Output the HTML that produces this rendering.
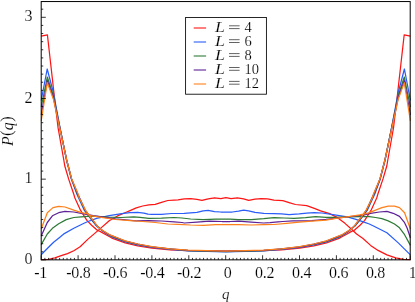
<!DOCTYPE html>
<html><head><meta charset="utf-8"><style>
html,body{margin:0;padding:0;background:#fff}
body{width:415px;height:302px;position:relative;overflow:hidden;font-family:"Liberation Serif",serif}
.t{position:absolute;will-change:transform;font-size:14px;line-height:16px;color:#000;white-space:nowrap}
.i{font-style:italic}
.n{font-style:normal}
.lg{font-size:14.5px}
</style></head><body>
<svg width="415" height="302" viewBox="0 0 415 302" style="position:absolute;left:0;top:0"><defs><clipPath id="c"><rect x="40.5" y="1.55" width="370.4" height="259.0"/></clipPath></defs><g clip-path="url(#c)" fill="none" stroke-width="1.25" stroke-linejoin="round" stroke-linecap="butt"><path d="M41.2,259.6 L48.6,259.3 L54.9,257.8 L61.2,255.7 L67.5,253.6 L73.8,250.7 L80.1,246.7 L88.0,239.1 L99.1,229.6 L109.2,220.8 L118.0,215.7 L126.8,212.0 L130.0,210.6 L136.3,207.9 L142.6,206.0 L148.9,204.9 L155.2,204.3 L161.5,202.4 L167.8,200.5 L174.1,200.1 L178.0,199.8 L184.3,198.8 L190.6,198.6 L196.9,199.4 L201.9,200.3 L208.2,198.8 L214.5,197.9 L220.8,198.6 L225.9,197.6 L231.0,198.6 L237.3,197.9 L243.6,198.8 L248.7,200.3 L255.0,199.1 L261.3,198.6 L267.6,198.8 L273.9,200.1 L282.8,200.7 L289.1,202.6 L295.4,204.5 L306.7,205.7 L314.3,208.3 L320.6,210.8 L329.6,213.6 L337.1,217.4 L344.7,223.1 L351.0,228.7 L356.6,234.0 L363.0,238.5 L370.6,245.4 L378.1,250.4 L386.9,254.9 L395.7,257.8 L403.3,259.3 L410.4,259.6" stroke="#ff1414"/><path d="M41.2,36.1 L47.4,34.8 L50.7,64.0 L54.3,96.0 L58.1,128.0 L63.8,160.0 L64.8,166.0 L68.6,178.9 L73.7,194.0 L74.9,198.0 L80.6,210.4 L86.9,220.4 L91.6,225.2 L97.6,230.5 L100.0,231.4 L109.2,236.5 L112.6,238.4 L125.2,242.8 L137.8,245.9 L152.0,248.2 L170.0,249.8 L188.0,250.6 L225.8,251.2 L263.6,250.6 L281.6,249.8 L299.6,248.2 L313.8,245.9 L326.4,242.8 L339.0,238.4 L342.4,236.5 L351.6,231.4 L354.0,230.5 L360.0,225.2 L364.7,220.4 L371.0,210.4 L376.7,198.0 L377.9,194.0 L383.0,178.9 L386.8,166.0 L387.8,160.0 L393.5,128.0 L397.3,96.0 L400.9,64.0 L404.2,34.8 L410.4,36.1" stroke="#ff1414"/><path d="M41.2,254.7 L47.3,248.5 L53.6,242.2 L59.9,237.2 L64.3,233.6 L73.8,228.3 L84.0,223.3 L88.0,221.5 L96.6,218.3 L109.2,215.7 L121.8,213.6 L130.0,212.7 L137.6,212.3 L143.9,213.2 L148.0,214.2 L152.0,214.4 L161.5,214.3 L171.6,213.5 L184.3,213.3 L190.6,212.9 L196.9,212.4 L203.2,210.8 L208.2,210.4 L214.5,211.7 L220.8,212.0 L226.0,212.0 L232.3,212.0 L238.6,211.2 L243.6,210.2 L248.7,210.8 L255.0,212.4 L263.8,213.3 L274.0,213.7 L281.6,213.9 L289.1,214.6 L299.2,213.9 L306.7,213.1 L314.3,212.7 L322.0,213.0 L334.6,214.9 L347.2,216.8 L356.0,219.3 L364.8,222.4 L369.3,224.0 L374.0,226.2 L386.9,232.8 L398.3,242.9 L410.4,254.9" stroke="#2a5ef8"/><path d="M41.2,100.5 L47.2,69.0 L53.5,93.0 L59.9,127.0 L66.5,160.0 L71.3,178.9 L76.8,194.0 L84.4,210.4 L91.9,220.4 L96.6,226.1 L102.0,230.5 L109.2,235.5 L112.6,237.2 L125.2,241.9 L137.8,245.0 L152.0,247.4 L170.0,249.3 L188.0,250.8 L225.8,251.8 L263.6,250.8 L281.6,249.3 L299.6,247.4 L313.8,245.0 L326.4,241.9 L339.0,237.2 L342.4,235.5 L349.6,230.5 L355.0,226.1 L359.7,220.4 L367.2,210.4 L374.8,194.0 L380.3,178.9 L385.1,160.0 L391.7,127.0 L398.1,93.0 L404.4,69.0 L410.4,100.5" stroke="#2a5ef8"/><path d="M41.2,244.6 L47.3,234.0 L52.4,228.3 L58.7,223.7 L66.2,219.6 L73.8,217.5 L81.3,216.8 L88.0,216.4 L96.0,216.3 L108.6,217.2 L121.2,217.5 L133.8,216.9 L140.0,217.4 L148.9,218.4 L161.5,218.1 L174.1,217.5 L182.0,218.0 L190.6,219.0 L203.2,219.6 L215.8,219.2 L230.0,219.2 L238.6,219.6 L251.2,219.6 L263.8,218.7 L274.0,217.7 L284.1,218.0 L294.2,218.3 L305.5,217.7 L315.6,216.7 L326.0,217.3 L334.6,217.4 L347.2,216.8 L359.8,216.6 L369.3,216.7 L375.6,217.5 L381.9,218.7 L388.2,220.9 L394.5,224.0 L399.5,227.8 L404.6,234.7 L410.4,245.4" stroke="#2e7a36"/><path d="M41.2,107.0 L47.3,77.0 L53.5,96.0 L59.9,127.5 L66.6,160.0 L71.5,178.9 L77.4,194.0 L85.0,210.4 L92.5,220.4 L96.6,225.6 L102.4,230.6 L109.2,235.0 L112.6,236.6 L125.2,241.4 L137.8,244.5 L152.0,247.0 L170.0,249.0 L188.0,250.6 L225.8,251.6 L263.6,250.6 L281.6,249.0 L299.6,247.0 L313.8,244.5 L326.4,241.4 L339.0,236.6 L342.4,235.0 L349.2,230.6 L355.0,225.6 L359.1,220.4 L366.6,210.4 L374.2,194.0 L380.1,178.9 L385.0,160.0 L391.7,127.5 L398.1,96.0 L404.3,77.0 L410.4,107.0" stroke="#2e7a36"/><path d="M41.2,236.0 L47.3,222.5 L52.4,215.8 L58.7,212.7 L65.0,211.4 L73.8,212.0 L81.3,213.3 L93.2,215.7 L115.5,218.9 L136.0,220.8 L148.9,220.6 L161.5,221.0 L174.1,221.9 L182.0,222.5 L184.3,223.0 L196.9,222.1 L209.5,221.1 L222.1,221.5 L230.0,221.5 L238.6,221.2 L251.2,222.1 L263.8,223.0 L270.1,222.7 L278.0,221.8 L282.8,221.5 L292.9,220.9 L303.0,220.9 L311.8,220.7 L326.0,219.4 L334.6,218.4 L347.2,216.8 L359.8,215.5 L363.0,215.2 L370.6,213.3 L379.4,212.0 L386.9,211.4 L393.2,213.3 L399.5,216.4 L404.6,222.7 L407.1,228.0 L410.4,237.9" stroke="#5e2296"/><path d="M41.2,115.0 L47.3,80.5 L53.5,98.0 L59.8,128.0 L66.7,160.0 L71.6,178.9 L77.8,194.0 L85.3,210.4 L92.9,220.4 L96.6,225.4 L102.7,230.8 L109.2,234.8 L112.6,236.2 L125.2,241.1 L137.8,244.2 L152.0,246.8 L170.0,248.9 L188.0,250.3 L225.8,251.2 L263.6,250.3 L281.6,248.9 L299.6,246.8 L313.8,244.2 L326.4,241.1 L339.0,236.2 L342.4,234.8 L348.9,230.8 L355.0,225.4 L358.7,220.4 L366.3,210.4 L373.8,194.0 L380.0,178.9 L384.9,160.0 L391.8,128.0 L398.1,98.0 L404.3,80.5 L410.4,115.0" stroke="#5e2296"/><path d="M41.2,229.0 L47.3,212.7 L53.0,207.6 L58.7,206.4 L65.0,207.0 L73.8,210.2 L81.3,212.7 L88.0,213.9 L90.3,215.7 L102.9,217.6 L115.5,219.5 L130.0,220.6 L142.6,221.5 L155.2,222.5 L167.8,224.0 L178.0,224.3 L190.6,225.0 L203.2,225.3 L215.8,224.6 L230.0,224.6 L238.6,224.6 L251.2,225.0 L263.8,224.6 L274.0,224.5 L286.6,223.4 L299.2,222.1 L311.8,221.2 L326.0,220.2 L334.6,218.7 L347.2,216.8 L359.8,214.9 L366.1,213.6 L369.3,212.7 L375.6,210.2 L381.9,207.6 L388.2,206.1 L394.5,206.1 L399.5,207.6 L404.6,212.7 L407.7,221.5 L410.4,229.0" stroke="#ff801a"/><path d="M41.2,120.8 L47.3,82.6 L53.5,99.5 L59.7,128.0 L66.7,160.0 L68.2,166.0 L71.7,178.9 L78.1,194.0 L79.3,198.0 L85.6,210.4 L90.3,217.0 L93.2,220.4 L96.6,225.2 L100.0,228.9 L104.5,231.5 L109.2,234.6 L112.6,235.9 L116.7,237.5 L125.2,240.9 L137.8,244.0 L152.0,246.6 L170.0,248.8 L188.0,250.2 L225.8,251.2 L263.6,250.2 L281.6,248.8 L299.6,246.6 L313.8,244.0 L326.4,240.9 L334.9,237.5 L339.0,235.9 L342.4,234.6 L347.1,231.5 L351.6,228.9 L355.0,225.2 L358.4,220.4 L361.3,217.0 L366.0,210.4 L372.3,198.0 L373.5,194.0 L379.9,178.9 L383.4,166.0 L384.9,160.0 L391.9,128.0 L398.1,99.5 L404.3,82.6 L410.4,120.8" stroke="#ff801a"/></g><rect x="41.2" y="1.55" width="369.0" height="258.3" fill="none" stroke="#000" stroke-width="1.0"/><path d="M41.20,259.85 v-4.6 M44.89,259.85 v-1.95 M48.58,259.85 v-1.95 M52.27,259.85 v-1.95 M55.96,259.85 v-1.95 M59.65,259.85 v-1.95 M63.34,259.85 v-1.95 M67.03,259.85 v-1.95 M70.72,259.85 v-1.95 M74.41,259.85 v-1.95 M78.10,259.85 v-4.6 M81.79,259.85 v-1.95 M85.48,259.85 v-1.95 M89.17,259.85 v-1.95 M92.86,259.85 v-1.95 M96.55,259.85 v-1.95 M100.24,259.85 v-1.95 M103.93,259.85 v-1.95 M107.62,259.85 v-1.95 M111.31,259.85 v-1.95 M115.00,259.85 v-4.6 M118.69,259.85 v-1.95 M122.38,259.85 v-1.95 M126.07,259.85 v-1.95 M129.76,259.85 v-1.95 M133.45,259.85 v-1.95 M137.14,259.85 v-1.95 M140.83,259.85 v-1.95 M144.52,259.85 v-1.95 M148.21,259.85 v-1.95 M151.90,259.85 v-4.6 M155.59,259.85 v-1.95 M159.28,259.85 v-1.95 M162.97,259.85 v-1.95 M166.66,259.85 v-1.95 M170.35,259.85 v-1.95 M174.04,259.85 v-1.95 M177.73,259.85 v-1.95 M181.42,259.85 v-1.95 M185.11,259.85 v-1.95 M188.80,259.85 v-4.6 M192.49,259.85 v-1.95 M196.18,259.85 v-1.95 M199.87,259.85 v-1.95 M203.56,259.85 v-1.95 M207.25,259.85 v-1.95 M210.94,259.85 v-1.95 M214.63,259.85 v-1.95 M218.32,259.85 v-1.95 M222.01,259.85 v-1.95 M225.70,259.85 v-4.6 M229.39,259.85 v-1.95 M233.08,259.85 v-1.95 M236.77,259.85 v-1.95 M240.46,259.85 v-1.95 M244.15,259.85 v-1.95 M247.84,259.85 v-1.95 M251.53,259.85 v-1.95 M255.22,259.85 v-1.95 M258.91,259.85 v-1.95 M262.60,259.85 v-4.6 M266.29,259.85 v-1.95 M269.98,259.85 v-1.95 M273.67,259.85 v-1.95 M277.36,259.85 v-1.95 M281.05,259.85 v-1.95 M284.74,259.85 v-1.95 M288.43,259.85 v-1.95 M292.12,259.85 v-1.95 M295.81,259.85 v-1.95 M299.50,259.85 v-4.6 M303.19,259.85 v-1.95 M306.88,259.85 v-1.95 M310.57,259.85 v-1.95 M314.26,259.85 v-1.95 M317.95,259.85 v-1.95 M321.64,259.85 v-1.95 M325.33,259.85 v-1.95 M329.02,259.85 v-1.95 M332.71,259.85 v-1.95 M336.40,259.85 v-4.6 M340.09,259.85 v-1.95 M343.78,259.85 v-1.95 M347.47,259.85 v-1.95 M351.16,259.85 v-1.95 M354.85,259.85 v-1.95 M358.54,259.85 v-1.95 M362.23,259.85 v-1.95 M365.92,259.85 v-1.95 M369.61,259.85 v-1.95 M373.30,259.85 v-4.6 M376.99,259.85 v-1.95 M380.68,259.85 v-1.95 M384.37,259.85 v-1.95 M388.06,259.85 v-1.95 M391.75,259.85 v-1.95 M395.44,259.85 v-1.95 M399.13,259.85 v-1.95 M402.82,259.85 v-1.95 M406.51,259.85 v-1.95 M410.20,259.85 v-4.6 M41.2,259.85 h4.6 M41.2,251.78 h2.05 M41.2,243.71 h2.05 M41.2,235.64 h2.05 M41.2,227.57 h2.05 M41.2,219.50 h2.05 M41.2,211.43 h2.05 M41.2,203.36 h2.05 M41.2,195.29 h2.05 M41.2,187.22 h2.05 M41.2,179.15 h4.6 M41.2,171.09 h2.05 M41.2,163.02 h2.05 M41.2,154.96 h2.05 M41.2,146.89 h2.05 M41.2,138.82 h2.05 M41.2,130.76 h2.05 M41.2,122.69 h2.05 M41.2,114.63 h2.05 M41.2,106.56 h2.05 M41.2,98.50 h4.6 M41.2,90.38 h2.05 M41.2,82.26 h2.05 M41.2,74.14 h2.05 M41.2,66.02 h2.05 M41.2,57.90 h2.05 M41.2,49.78 h2.05 M41.2,41.66 h2.05 M41.2,33.54 h2.05 M41.2,25.42 h2.05 M41.2,17.30 h4.6 M41.2,9.20 h2.05" stroke="#000" stroke-width="0.8" fill="none"/><rect x="185.6" y="17.55" width="80.8" height="76.65" fill="#fff" stroke="#000" stroke-width="0.85"/><path d="M193.7,28.0 H206.1" stroke="#ff1414" stroke-width="1.1"/><path d="M193.7,42.0 H206.1" stroke="#2a5ef8" stroke-width="1.1"/><path d="M193.7,56.0 H206.1" stroke="#2e7a36" stroke-width="1.1"/><path d="M193.7,70.0 H206.1" stroke="#5e2296" stroke-width="1.1"/><path d="M193.7,84.0 H206.1" stroke="#ff801a" stroke-width="1.1"/></svg>
<svg width="415" height="302" viewBox="0 0 415 302" style="position:absolute;left:0;top:0;will-change:transform" font-family="Liberation Serif, serif" font-size="16" fill="#000" stroke="#fff" stroke-width="0.16"><text x="40.65" y="277.9" text-anchor="middle" letter-spacing="-0.3">-1</text><text x="78.35000000000001" y="277.9" text-anchor="middle" letter-spacing="-0.3">-0.8</text><text x="115.15" y="277.9" text-anchor="middle" letter-spacing="-0.3">-0.6</text><text x="152.35" y="277.9" text-anchor="middle" letter-spacing="-0.3">-0.4</text><text x="189.05" y="277.9" text-anchor="middle" letter-spacing="-0.3">-0.2</text><text x="227.7" y="277.9" text-anchor="middle" letter-spacing="-0.3">0</text><text x="264.54999999999995" y="277.9" text-anchor="middle" letter-spacing="-0.3">0.2</text><text x="301.65" y="277.9" text-anchor="middle" letter-spacing="-0.3">0.4</text><text x="338.54999999999995" y="277.9" text-anchor="middle" letter-spacing="-0.3">0.6</text><text x="375.45" y="277.9" text-anchor="middle" letter-spacing="-0.3">0.8</text><text x="412.5" y="277.9" text-anchor="middle" letter-spacing="-0.3">1</text><text x="32.6" y="264.10" text-anchor="end">0</text><text x="32.6" y="183.40" text-anchor="end">1</text><text x="32.6" y="102.75" text-anchor="end">2</text><text x="32.6" y="21.10" text-anchor="end">3</text><text x="225.8" y="298.8" text-anchor="middle" font-style="italic" font-size="15">q</text><text transform="translate(13.1,131.0) rotate(-90)" text-anchor="middle" font-size="16" font-style="italic" letter-spacing="0.3">P<tspan font-style="normal" dy="-0.9" font-size="16.5">(</tspan><tspan dy="0.9">q</tspan><tspan font-style="normal" dy="-0.9" font-size="16.5">)</tspan></text><text transform="translate(215.0,31.9) scale(1.22,1)" font-style="italic" font-size="14.8">L</text><path d="M229.0,25.80 h10.6 M229.0,28.60 h10.6" stroke="#000" stroke-width="0.62" fill="none"/><text x="244.5" y="31.9" font-size="14.5">4</text><text transform="translate(215.0,45.8) scale(1.22,1)" font-style="italic" font-size="14.8">L</text><path d="M229.0,39.70 h10.6 M229.0,42.50 h10.6" stroke="#000" stroke-width="0.62" fill="none"/><text x="244.5" y="45.8" font-size="14.5">6</text><text transform="translate(215.0,59.7) scale(1.22,1)" font-style="italic" font-size="14.8">L</text><path d="M229.0,53.60 h10.6 M229.0,56.40 h10.6" stroke="#000" stroke-width="0.62" fill="none"/><text x="244.5" y="59.7" font-size="14.5">8</text><text transform="translate(215.0,73.6) scale(1.22,1)" font-style="italic" font-size="14.8">L</text><path d="M229.0,67.50 h10.6 M229.0,70.30 h10.6" stroke="#000" stroke-width="0.62" fill="none"/><text x="244.5" y="73.6" font-size="14.5">10</text><text transform="translate(215.0,87.5) scale(1.22,1)" font-style="italic" font-size="14.8">L</text><path d="M229.0,81.40 h10.6 M229.0,84.20 h10.6" stroke="#000" stroke-width="0.62" fill="none"/><text x="244.5" y="87.5" font-size="14.5">12</text></svg>
</body></html>
